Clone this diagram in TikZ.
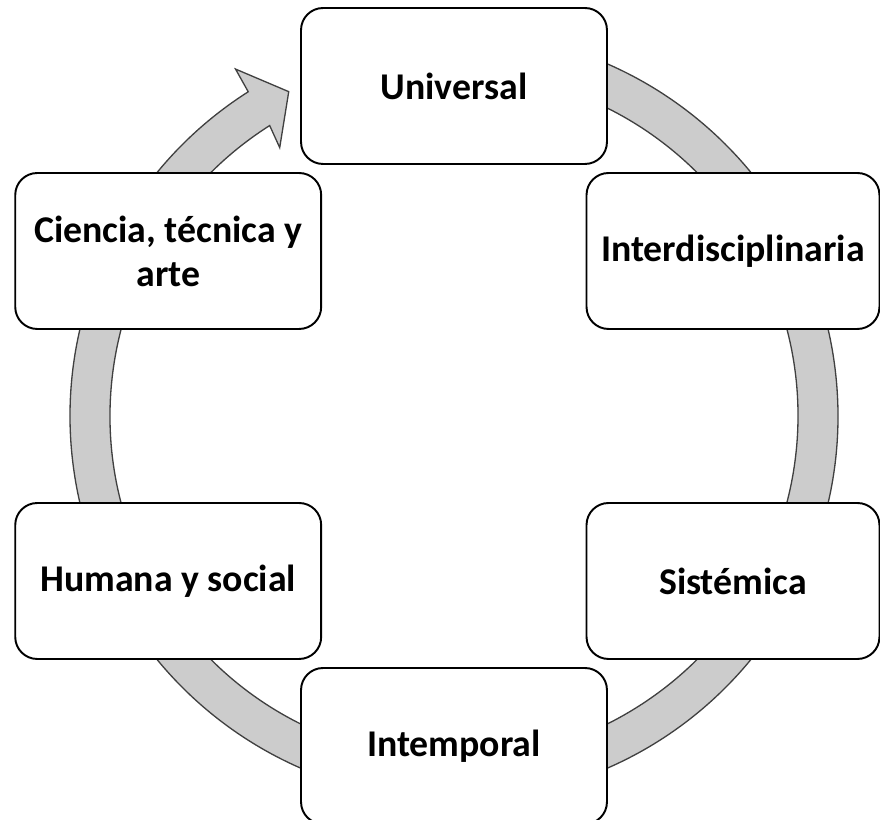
\documentclass[tikz,border=0pt]{standalone}
\usepackage{fontspec}
\setmainfont{Carlito}

\begin{document}
\begin{tikzpicture}[x=0.02cm,y=0.02cm,
    ring/.style={fill=black!20,draw=black!75,line width=0.75pt},
    stage/.style={draw,fill=white,line width=1.1pt,rounded corners=0.44cm,
        minimum width=6.12cm,minimum height=3.12cm,align=center,
        font={\fontsize{21.5}{25}\selectfont\bfseries}},
    narrow/.style={minimum width=5.86cm}]
\clip (-454,-404) rectangle (426,416);
% circular arrow behind the boxes
\filldraw[ring] (95:384) arc[start angle=95,end angle=-237.6,radius=384]
    -- (122.2:410) -- (117:364) -- (123:320) -- (122.4:344)
    arc[start angle=-237.6,end angle=95,radius=344] -- cycle;
\node[stage] (universal) at (90:330) {Universal};
\node[stage,narrow] (inter) at (279,165) {Interdisciplinaria};
\node[stage,narrow] (sistemica) at (279,-165) {Sistémica};
\node[stage] (intemporal) at (-90:330) {Intemporal};
\node[stage] (humana) at (-150:330) {Humana y social};
\node[stage] (ciencia) at (150:330) {Ciencia, técnica y\\arte};
\end{tikzpicture}
\end{document}
